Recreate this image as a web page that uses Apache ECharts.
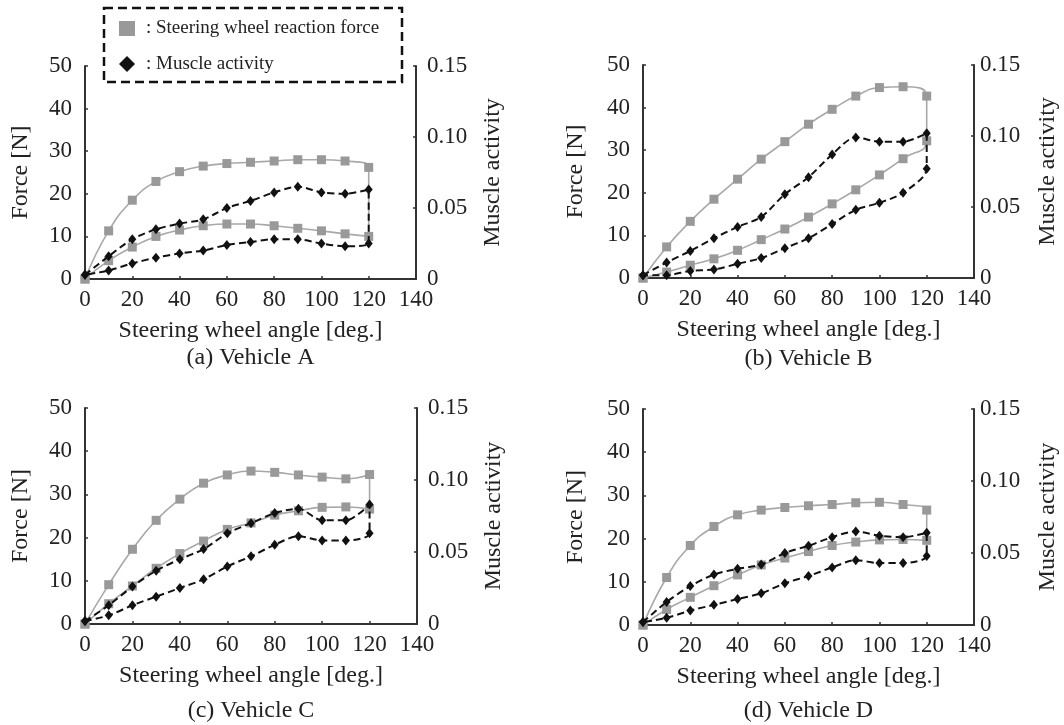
<!DOCTYPE html>
<html>
<head>
<meta charset="utf-8">
<title>Steering wheel reaction force and muscle activity</title>
<script src="https://cdn.jsdelivr.net/npm/echarts@6/dist/echarts.min.js"></script>
<style>
    html, body { margin: 0; padding: 0; background: #fff; }
    #chart { width: 1064px; height: 725px; }
</style>
</head>
<body>
<div id="chart"></div>
<script>
// angles of the measured points: going out 0 -> 120, coming back 120 -> 0
const angleUp = [0, 10, 20, 30, 40, 50, 60, 70, 80, 90, 100, 110, 120];
const angleDown = [120, 110, 100, 90, 80, 70, 60, 50, 40, 30, 20, 10, 0];

// tick values of the three axes
const angleTicks = [0, 20, 40, 60, 80, 100, 120, 140];
const forceTicks = [0, 10, 20, 30, 40, 50];
const muscleTicks = [0, 0.05, 0.10, 0.15];

// Vehicle A
const forceUpA = [0, 11.3, 18.5, 22.9, 25.2, 26.5, 27.1, 27.4, 27.7, 28.0, 28.0, 27.7, 26.2];
const forceDownA = [10.0, 10.6, 11.3, 11.9, 12.5, 12.9, 12.9, 12.5, 11.5, 10.0, 7.5, 4.3, 0];
const muscleUpA = [0.003, 0.016, 0.028, 0.035, 0.039, 0.042, 0.050, 0.055, 0.061, 0.065, 0.061, 0.060, 0.063];
const muscleDownA = [0.025, 0.023, 0.025, 0.028, 0.028, 0.026, 0.024, 0.020, 0.018, 0.015, 0.011, 0.006, 0.003];

// Vehicle B
const forceUpB = [0, 7.3, 13.3, 18.5, 23.2, 27.9, 32.0, 36.1, 39.6, 42.7, 44.7, 44.9, 42.7];
const forceDownB = [32.2, 28.0, 24.2, 20.7, 17.4, 14.3, 11.5, 9.0, 6.5, 4.5, 3.0, 1.4, 0];
const muscleUpB = [0.002, 0.011, 0.019, 0.028, 0.036, 0.043, 0.059, 0.071, 0.087, 0.099, 0.096, 0.096, 0.102];
const muscleDownB = [0.077, 0.060, 0.053, 0.048, 0.038, 0.028, 0.021, 0.014, 0.010, 0.006, 0.005, 0.002, 0.002];

// Vehicle C
const forceUpC = [0, 9.1, 17.3, 24.0, 28.9, 32.6, 34.5, 35.4, 35.1, 34.5, 34.0, 33.6, 34.6];
const forceDownC = [26.6, 27.1, 27.0, 26.2, 25.2, 23.4, 21.9, 19.2, 16.3, 12.9, 8.8, 4.7, 0];
const muscleUpC = [0.002, 0.013, 0.026, 0.037, 0.045, 0.052, 0.063, 0.070, 0.077, 0.080, 0.072, 0.072, 0.083];
const muscleDownC = [0.063, 0.058, 0.058, 0.061, 0.055, 0.047, 0.040, 0.031, 0.025, 0.019, 0.013, 0.006, 0.002];

// Vehicle D
const forceUpD = [0, 11.0, 18.4, 22.8, 25.5, 26.6, 27.2, 27.6, 27.9, 28.3, 28.4, 27.9, 26.6];
const forceDownD = [19.6, 19.8, 19.7, 19.2, 18.4, 17.0, 15.5, 13.9, 11.6, 9.1, 6.4, 3.6, 0];
const muscleUpD = [0.002, 0.016, 0.027, 0.035, 0.039, 0.042, 0.050, 0.055, 0.061, 0.065, 0.062, 0.061, 0.064];
const muscleDownD = [0.048, 0.043, 0.043, 0.045, 0.040, 0.034, 0.029, 0.022, 0.018, 0.014, 0.010, 0.005, 0.002];

const captions = ['(a) Vehicle A', '(b) Vehicle B', '(c) Vehicle C', '(d) Vehicle D'];
const forceName = 'Steering wheel reaction force';
const muscleName = 'Muscle activity';

const FONT = '"Liberation Serif", "Times New Roman", serif';
const TEXT = '#222';
const AXIS = '#333';

// grid boxes and caption positions of the four panels
const panels = [
    { left: 85,  top: 66,  width: 331, height: 213, capY: 358, nameGapL: 52, nameGapR: 65, marginR: 11,
      fUp: forceUpA, fDown: forceDownA, mUp: muscleUpA, mDown: muscleDownA },
    { left: 643, top: 65,  width: 331, height: 213, capY: 359, nameGapL: 55, nameGapR: 62, marginR: 6,
      fUp: forceUpB, fDown: forceDownB, mUp: muscleUpB, mDown: muscleDownB },
    { left: 85,  top: 408, width: 332, height: 216, capY: 711, nameGapL: 52, nameGapR: 65, marginR: 11,
      fUp: forceUpC, fDown: forceDownC, mUp: muscleUpC, mDown: muscleDownC },
    { left: 643, top: 409, width: 331, height: 216, capY: 711, nameGapL: 55, nameGapR: 62, marginR: 6,
      fUp: forceUpD, fDown: forceDownD, mUp: muscleUpD, mDown: muscleDownD }
];

const loop = (up, down) =>
    angleUp.map((a, i) => [a, up[i]]).concat(angleDown.map((a, i) => [a, down[i]]));

const chart = echarts.init(document.getElementById('chart'));

const grid = [], xAxis = [], yAxis = [], series = [], graphic = [];

panels.forEach((p, k) => {
    grid.push({ left: p.left, top: p.top, width: p.width, height: p.height, outerBoundsMode: 'none', containLabel: false });

    xAxis.push({
        type: 'value', gridIndex: k,
        min: angleTicks[0], max: angleTicks[angleTicks.length - 1], interval: angleTicks[1] - angleTicks[0],
        name: 'Steering wheel angle [deg.]', nameLocation: 'middle', nameGap: 40,
        nameTextStyle: { fontFamily: FONT, fontSize: 24, color: TEXT },
        axisLine: { lineStyle: { color: AXIS, width: 2 } },
        axisTick: { show: true, inside: true, length: 3, lineStyle: { color: AXIS, width: 1.5 } },
        axisLabel: { fontFamily: FONT, fontSize: 23, color: TEXT, margin: 9 },
        splitLine: { show: false }
    });

    yAxis.push({
        type: 'value', gridIndex: k, position: 'left',
        min: forceTicks[0], max: forceTicks[forceTicks.length - 1], interval: forceTicks[1] - forceTicks[0],
        name: 'Force [N]', nameLocation: 'middle', nameGap: p.nameGapL,
        nameTextStyle: { fontFamily: FONT, fontSize: 24, color: TEXT },
        axisLine: { show: true, lineStyle: { color: AXIS, width: 2 } },
        axisTick: { show: true, inside: true, length: 3, lineStyle: { color: AXIS, width: 1.5 } },
        axisLabel: { fontFamily: FONT, fontSize: 23, color: TEXT, margin: 13 },
        splitLine: { show: false }
    });

    yAxis.push({
        type: 'value', gridIndex: k, position: 'right',
        min: muscleTicks[0], max: muscleTicks[muscleTicks.length - 1], interval: muscleTicks[1] - muscleTicks[0],
        name: 'Muscle activity', nameLocation: 'middle', nameGap: p.nameGapR, nameRotate: 90,
        nameTextStyle: { fontFamily: FONT, fontSize: 24, color: TEXT },
        axisLine: { show: true, lineStyle: { color: AXIS, width: 2 } },
        axisTick: { show: true, inside: true, length: 3, lineStyle: { color: AXIS, width: 1.5 } },
        axisLabel: {
            fontFamily: FONT, fontSize: 23, color: TEXT, margin: p.marginR,
            formatter: v => (v === 0 ? '0' : v.toFixed(2))
        },
        splitLine: { show: false }
    });

    series.push({
        name: forceName, type: 'line', xAxisIndex: k, yAxisIndex: 2 * k,
        data: loop(p.fUp, p.fDown),
        smooth: 0.5, clip: false,
        symbol: 'rect', symbolSize: 9,
        itemStyle: { color: '#999' },
        lineStyle: { color: '#a8a8a8', width: 1.6 },
        z: 2
    });

    series.push({
        name: muscleName, type: 'line', xAxisIndex: k, yAxisIndex: 2 * k + 1,
        data: loop(p.mUp, p.mDown),
        smooth: 0.3, clip: false,
        symbol: 'diamond', symbolSize: [8, 10],
        itemStyle: { color: '#111' },
        lineStyle: { color: '#111', width: 2, type: [7, 4] },
        z: 3
    });

    // panel caption under the axis name
    graphic.push({
        type: 'text',
        style: {
            text: captions[k], x: p.left + p.width / 2, y: p.capY,
            textAlign: 'center', textVerticalAlign: 'middle', align: 'center', verticalAlign: 'middle',
            font: '24px ' + FONT, fill: TEXT
        }
    });
});

// dashed legend box
graphic.push(
    {
        type: 'rect', shape: { x: 104, y: 8, width: 298, height: 74 },
        style: { fill: 'none', stroke: '#111', lineWidth: 2.5, lineDash: [9, 5] }
    },
    { type: 'rect', shape: { x: 119, y: 21, width: 16, height: 15 }, style: { fill: '#999' } },
    {
        type: 'polygon', shape: { points: [[127, 56], [135, 64], [127, 72], [119, 64]] },
        style: { fill: '#111' }
    },
    {
        type: 'text',
        style: { text: ': ' + forceName, x: 146, y: 28, textVerticalAlign: 'middle', verticalAlign: 'middle',
                 font: '19px ' + FONT, fill: TEXT }
    },
    {
        type: 'text',
        style: { text: ': ' + muscleName, x: 146, y: 64, textVerticalAlign: 'middle', verticalAlign: 'middle',
                 font: '19px ' + FONT, fill: TEXT }
    }
);

chart.setOption({
    animation: false,
    grid: grid,
    xAxis: xAxis,
    yAxis: yAxis,
    series: series,
    graphic: graphic
});

window.addEventListener('resize', () => chart.resize());
</script>
</body>
</html>
